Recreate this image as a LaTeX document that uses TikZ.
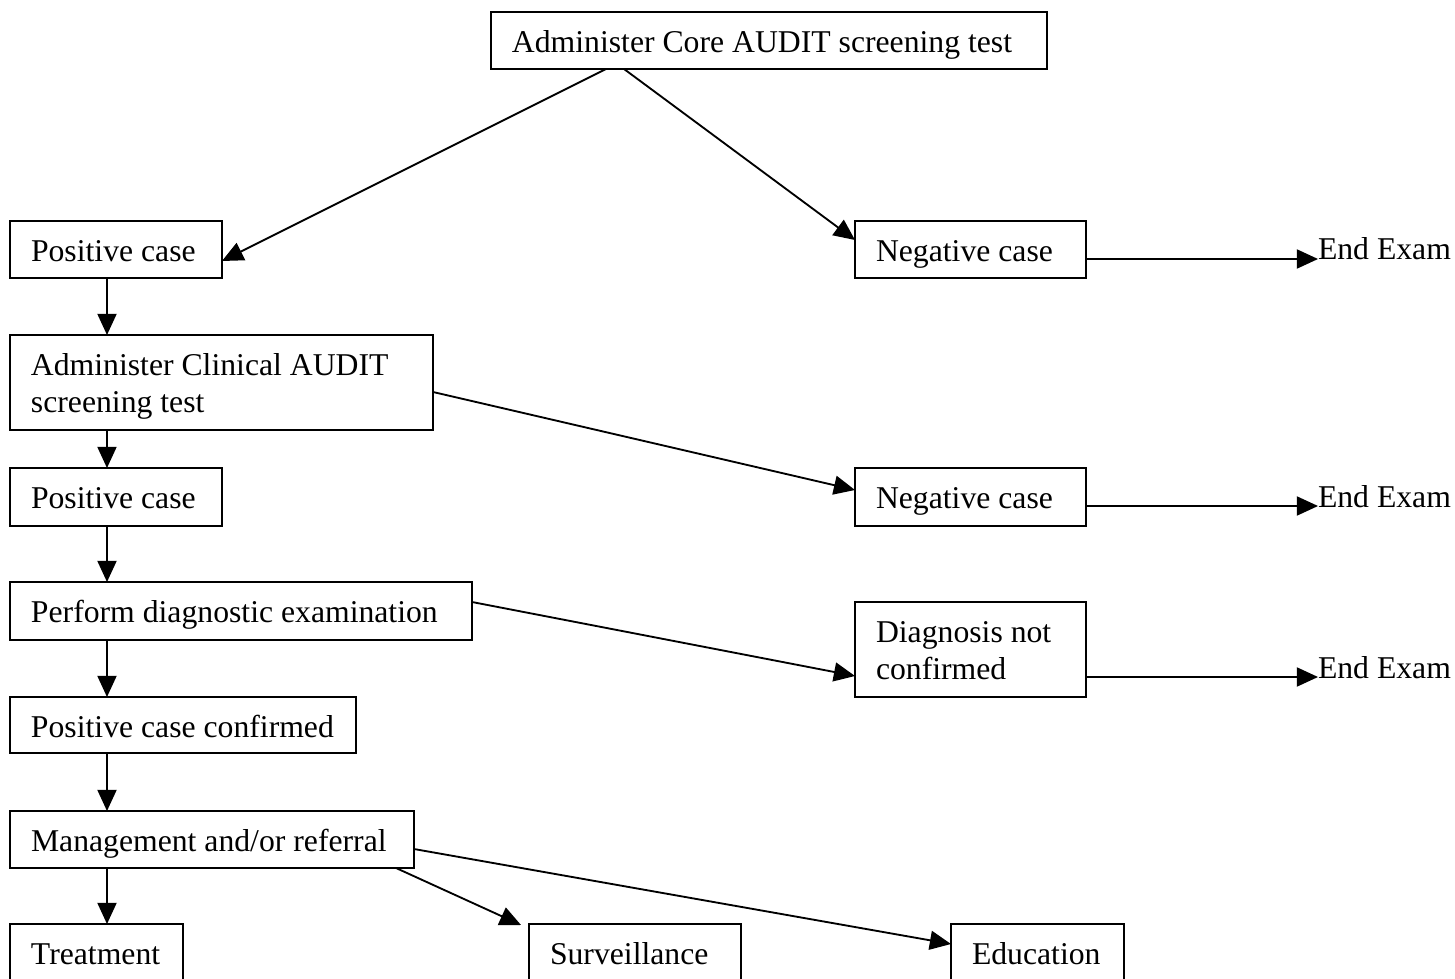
\documentclass[tikz,border=0pt]{standalone}
\usepackage{fontspec}
\setmainfont{Liberation Serif}
\usetikzlibrary{arrows.meta,calc}
\begin{document}
\begin{tikzpicture}[x=0.3785pt,y=-0.3785pt,
  box/.style 2 args={draw, line width=0.75pt, inner sep=0pt, outer sep=0pt, minimum width=#1, minimum height=#2},
  txt/.style={inner sep=0pt, outer sep=0pt, anchor=base west, font=\fontsize{12}{14}\selectfont},
  arr/.style={line width=0.7pt, -{Triangle[length=8pt,width=7.2pt]}}]
\useasboundingbox (0,0) rectangle (1455,979);
\clip (0,0) rectangle (1455,979);

% boxes
\node[box={210.45pt}{21.57pt}] (core) at (769,40.5) {};
\node[box={80.24pt}{21.57pt}] (pos1) at (116,249.5) {};
\node[box={87.43pt}{21.57pt}] (neg1) at (970.5,249.5) {};
\node[box={160.11pt}{35.96pt}] (clin) at (221.5,382.5) {};
\node[box={80.24pt}{21.95pt}] (pos2) at (116,497) {};
\node[box={87.43pt}{21.95pt}] (neg2) at (970.5,497) {};
\node[box={174.87pt}{21.95pt}] (perf) at (241,611) {};
\node[box={87.43pt}{35.96pt}] (diag) at (970.5,649.5) {};
\node[box={130.96pt}{21.20pt}] (pcc) at (183,725) {};
\node[box={152.91pt}{21.57pt}] (mgmt) at (212,839.5) {};
\node[box={65.48pt}{21.57pt}] (treat) at (96.5,952.5) {};
\node[box={80.24pt}{21.57pt}] (surv) at (635,952.5) {};
\node[box={65.48pt}{21.57pt}] (edu) at (1037.5,952.5) {};

% texts
\node[txt] (tcore) at ($(core.north west)+(21,40.5)$) {Administer Core AUDIT screening test};
\node[txt] (tpos1) at ($(pos1.north west)+(21,40.5)$) {Positive case};
\node[txt] (tneg1) at ($(neg1.north west)+(21,40.5)$) {Negative case};
\node[txt] (tclina) at ($(clin.north west)+(21,40.5)$) {Administer Clinical AUDIT};
\node[txt] (tclinb) at ($(clin.north west)+(21,77.5)$) {screening test};
\node[txt] (tpos2) at ($(pos2.north west)+(21,40.5)$) {Positive case};
\node[txt] (tneg2) at ($(neg2.north west)+(21,40.5)$) {Negative case};
\node[txt] (tperf) at ($(perf.north west)+(21,40.5)$) {Perform diagnostic examination};
\node[txt] (tdiaga) at ($(diag.north west)+(21,40.5)$) {Diagnosis not};
\node[txt] (tdiagb) at ($(diag.north west)+(21,77.5)$) {confirmed};
\node[txt] (tpcc) at ($(pcc.north west)+(21,40.5)$) {Positive case confirmed};
\node[txt] (tmgmt) at ($(mgmt.north west)+(21,40.5)$) {Management and/or referral};
\node[txt] (ttreat) at ($(treat.north west)+(21,40.5)$) {Treatment};
\node[txt] (tsurv) at ($(surv.north west)+(21,40.5)$) {Surveillance};
\node[txt] (tedu) at ($(edu.north west)+(21,40.5)$) {Education};

% End Exam labels
\node[txt] (end1) at (1318,260) {End Exam};
\node[txt] (end2) at (1318,507) {End Exam};
\node[txt] (end3) at (1318,678) {End Exam};

% connectors
\draw[arr] ($(core.south west)+(115,0)$) -- ($(pos1.north east)+(0,40)$);
\draw[arr] ($(core.south west)+(133,0)$) -- ($(neg1.north west)+(0,19)$);
\draw[arr] ($(neg1.north east)+(0,38)$) coordinate (s1) -- (s1 -| end1.west);

\draw[arr] ($(pos1.south west)+(97,0)$) coordinate (v1) -- (v1 |- clin.north);
\draw[arr] ($(clin.north east)+(0,57)$) -- ($(neg2.north west)+(0,22)$);
\draw[arr] ($(neg2.north east)+(0,38)$) coordinate (s2) -- (s2 -| end2.west);

\draw[arr] ($(clin.south west)+(97,0)$) coordinate (v2) -- (v2 |- pos2.north);
\draw[arr] ($(pos2.south west)+(97,0)$) coordinate (v3) -- (v3 |- perf.north);
\draw[arr] ($(perf.north east)+(0,20)$) -- ($(diag.north west)+(0,74)$);
\draw[arr] ($(diag.north east)+(0,75)$) coordinate (s3) -- (s3 -| end3.west);

\draw[arr] ($(perf.south west)+(97,0)$) coordinate (v4) -- (v4 |- pcc.north);
\draw[arr] ($(pcc.south west)+(97,0)$) coordinate (v5) -- (v5 |- mgmt.north);
\draw[arr] ($(mgmt.south west)+(97,0)$) coordinate (v6) -- (v6 |- treat.north);
\draw[arr] ($(mgmt.south west)+(386,0)$) -- ($(surv.north west)+(-8,1)$);
\draw[arr] ($(mgmt.north east)+(0,38)$) -- ($(edu.north west)+(0,20)$);
\end{tikzpicture}
\end{document}
